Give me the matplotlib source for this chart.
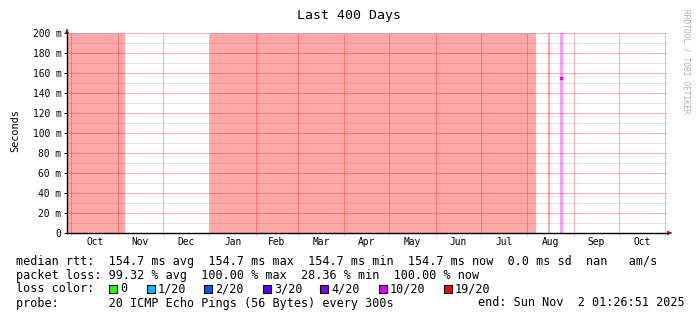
import datetime as dt
import matplotlib
matplotlib.use("Agg")
import matplotlib.pyplot as plt
from matplotlib.patches import Rectangle

# time window (400 days ending at probe end)
t_end = dt.datetime(2025, 11, 2, 1, 26, 51)
t_start = t_end - dt.timedelta(days=400)

# periods with total packet loss (shaded)
loss_starts = ["2024-09-28 01:26", "2025-01-01 08:00", "2025-08-14 16:00"]
loss_ends = ["2024-11-05 18:00", "2025-08-06 13:00", "2025-08-16 00:00"]

# partial-loss period with a measured median
part_start = "2025-08-22 16:00"
part_end = "2025-08-24 12:00"
median_ms = 154.7

month_names = ["Oct", "Nov", "Dec", "Jan", "Feb", "Mar", "Apr", "May", "Jun", "Jul", "Aug", "Sep", "Oct"]
month_years = [2024, 2024, 2024, 2025, 2025, 2025, 2025, 2025, 2025, 2025, 2025, 2025, 2025]
month_nums = [10, 11, 12, 1, 2, 3, 4, 5, 6, 7, 8, 9, 10]

y_ticks = [0, 20, 40, 60, 80, 100, 120, 140, 160, 180, 200]
y_ticklabels = ["0", "20 m", "40 m", "60 m", "80 m", "100 m", "120 m", "140 m", "160 m", "180 m", "200 m"]

loss_labels = ["0", "1/20", "2/20", "3/20", "4/20", "10/20", "19/20"]
loss_colors = ["#26ff00", "#00b8ff", "#0059ff", "#5e00ff", "#7e00ff", "#dd00ff", "#ff0000"]
loss_box_x = [109, 147, 204, 263, 320, 379, 444]

mono = "DejaVu Sans Mono"
W, H = 697, 321
px = 0.72  # one pixel in points

fig = plt.figure(figsize=(W / 100, H / 100), dpi=100)
fig.patch.set_facecolor("white")
ax = fig.add_axes([67 / W, (H - 233) / H, 600 / W, 200 / H])
ax.set_xlim(t_start, t_end)
ax.set_ylim(0, 200)

def d(s):
    return dt.datetime.strptime(s, "%Y-%m-%d %H:%M")

for s, e in zip(loss_starts, loss_ends):
    ax.axvspan(d(s), d(e), color="#ffa8a8", lw=0, zorder=1)
    ax.plot([d(s), d(e)], [200, 200], color="#c8a4e4", lw=1.2, zorder=4)
ax.axvspan(d(part_start), d(part_end), color="#f4a0ff", lw=0, zorder=1)
mid = d(part_start) + (d(part_end) - d(part_start)) / 2
ax.plot([mid], [median_ms], marker="s", ms=2, color="#dd00ff", zorder=5)

# grid
for v in range(10, 200, 20):
    ax.axhline(v, color="black", alpha=0.1, lw=px, zorder=2, snap=True)
for v in y_ticks[1:]:
    ax.axhline(v, color="#ff0000", alpha=0.3, lw=px, zorder=3, snap=True)
month_starts = [dt.datetime(y, m, 1) for y, m in zip(month_years, month_nums)] + [dt.datetime(2025, 11, 1)]
for m in month_starts:
    ax.axvline(m, color="#ff0000", alpha=0.3, lw=px, zorder=3, snap=True)

ax.set_yticks(y_ticks)
ax.set_yticklabels(y_ticklabels, family=mono, fontsize=6.9)
ax.set_xticks(month_starts)
ax.set_xticklabels([""] * len(month_starts))
mids = [m + (n - m) / 2 for m, n in zip(month_starts[:-1], month_starts[1:])]
ax.set_xticks(mids, minor=True)
ax.set_xticklabels(month_names, minor=True, family=mono, fontsize=6.9)
ax.tick_params(axis="x", which="minor", length=0, pad=3)
ax.tick_params(axis="x", which="major", length=2.5, width=px, color="#ffb3b3")
ax.tick_params(axis="y", length=2, width=px, pad=2)

for sp in ["top", "right"]:
    ax.spines[sp].set_visible(False)
ax.spines["left"].set_linewidth(1.0)
ax.spines["bottom"].set_linewidth(1.0)
ax.spines["left"].set_zorder(6)
ax.spines["bottom"].set_zorder(6)

# axis arrows
ax.annotate("", xy=(67 / W, (H - 26) / H), xytext=(67 / W, (H - 33) / H), xycoords="figure fraction",
            arrowprops=dict(arrowstyle="-|>", color="#8b1a1a", lw=0.8, mutation_scale=6))
ax.annotate("", xy=(675 / W, (H - 233) / H), xytext=(667 / W, (H - 233) / H), xycoords="figure fraction",
            arrowprops=dict(arrowstyle="-|>", color="#8b1a1a", lw=0.8, mutation_scale=6))

fig.text(349 / W, (H - 16) / H, "Last 400 Days", family=mono, fontsize=9.5, ha="center", va="center")
fig.text(15 / W, (H - 131) / H, "Seconds", family=mono, fontsize=7.4, rotation=90, ha="center", va="center")
fig.text(686 / W, (H - 61) / H, "RRDTOOL / TOBI OETIKER", family=mono, fontsize=5.7, color="#b0b0b0",
         rotation=-90, ha="center", va="center")

fs = 8.5
fig.text(16 / W, (H - 261) / H,
         "median rtt:  154.7 ms avg  154.7 ms max  154.7 ms min  154.7 ms now  0.0 ms sd  nan   am/s",
         family=mono, fontsize=fs, va="center")
fig.text(16 / W, (H - 275) / H, "packet loss: 99.32 % avg  100.00 % max  28.36 % min  100.00 % now",
         family=mono, fontsize=fs, va="center")
fig.text(16 / W, (H - 289) / H, "loss color:", family=mono, fontsize=fs, va="center")
for bx, lab, c in zip(loss_box_x, loss_labels, loss_colors):
    fig.patches.append(Rectangle((bx / W, (H - 293) / H), 8 / W, 8 / H, transform=fig.transFigure,
                                 facecolor=c, edgecolor="black", lw=0.8))
    fig.text((bx + 11) / W, (H - 289) / H, lab, family=mono, fontsize=fs, va="center")
fig.text(16 / W, (H - 303) / H, "probe:       20 ICMP Echo Pings (56 Bytes) every 300s",
         family=mono, fontsize=fs, va="center")
fig.text(478 / W, (H - 303) / H, "end: Sun Nov  2 01:26:51 2025", family=mono, fontsize=fs, va="center")

fig.savefig("out.png", dpi=100)
